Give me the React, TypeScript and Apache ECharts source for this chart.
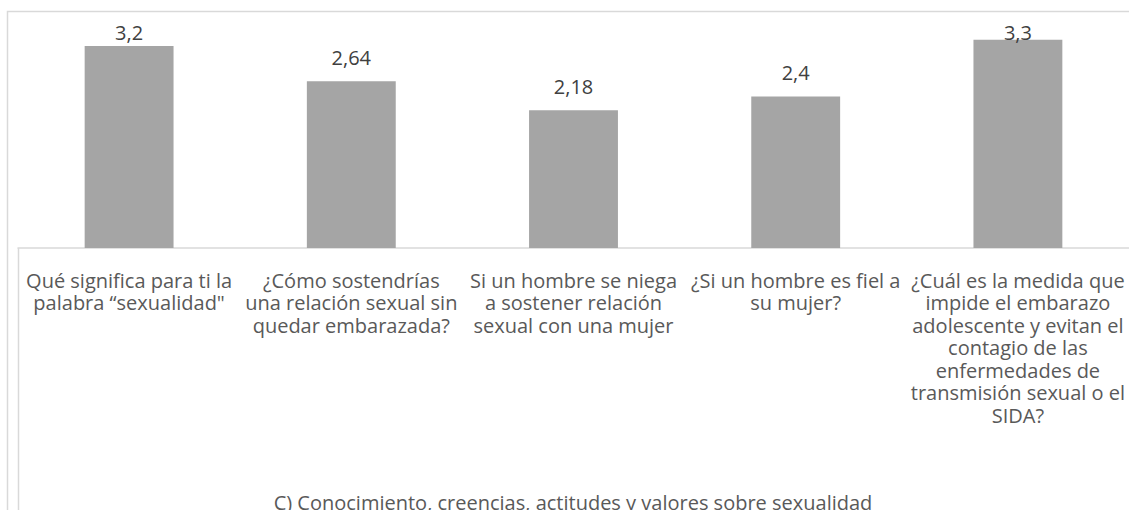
import React, { useEffect, useRef } from "react";
import * as echarts from "echarts";

const categories: string[] = [
  "Qué significa para ti la\npalabra “sexualidad\"",
  "¿Cómo sostendrías\nuna relación sexual sin\nquedar embarazada?",
  "Si un hombre se niega\na sostener relación\nsexual con una mujer",
  "¿Si un hombre es fiel a\nsu mujer?",
  "¿Cuál es la medida que\nimpide el embarazo\nadolescente y evitan el\ncontagio de las\nenfermedades de\ntransmisión sexual o el\nSIDA?",
];
const values: number[] = [3.2, 2.64, 2.18, 2.4, 3.3];
const axisTitle = "C) Conocimiento, creencias, actitudes y valores sobre sexualidad";

const FONT = "'Open Sans', 'Noto Sans', sans-serif";
const FS = 20;

export default function App() {
  const ref = useRef<HTMLDivElement>(null);
  useEffect(() => {
    if (!ref.current) return;
    const chart = echarts.init(ref.current, undefined, { renderer: "svg" });
    const gridTop = 27;
    const gridHeight = 221;
    const yMax = 3.5;
    const labelClampTop = 21;
    const labelH = 22;
    const data = values.map((v) => {
      const barTop = gridTop + gridHeight - (v / yMax) * gridHeight;
      const dist = Math.min(13, barTop - labelClampTop - labelH);
      return { value: v, label: { distance: dist } };
    });
    chart.setOption({
      animation: false,
      backgroundColor: "#ffffff",
      grid: { left: 18, top: gridTop, height: gridHeight, width: 1112, containLabel: false },
      xAxis: {
        type: "category",
        data: categories,
        axisLine: { show: true, lineStyle: { color: "#d9d9d9", width: 1.5 } },
        axisTick: { show: false },
        axisLabel: {
          interval: 0,
          color: "#595959",
          fontSize: FS,
          fontFamily: FONT,
          lineHeight: 22.5,
          margin: 21,
        },
      },
      yAxis: {
        type: "value",
        min: 0,
        max: yMax,
        show: false,
        splitLine: { show: false },
      },
      series: [
        {
          type: "bar",
          data,
          barWidth: "40%",
          itemStyle: { color: "#a5a5a5" },
          label: {
            show: true,
            position: "top",
            color: "#404040",
            fontSize: FS,
            lineHeight: labelH,
            fontFamily: FONT,
            formatter: (p: any) => String(p.value).replace(".", ","),
          },
        },
      ],
      graphic: [
        {
          type: "rect",
          shape: { x: 7.5, y: 11.5, width: 1200, height: 600 },
          style: { fill: "none", stroke: "#d9d9d9", lineWidth: 1.5 },
          silent: true,
        },
        {
          type: "line",
          shape: { x1: 18.5, y1: 248, x2: 18.5, y2: 520 },
          style: { stroke: "#d9d9d9", lineWidth: 1.5 },
          silent: true,
        },
        {
          type: "text",
          x: 573,
          y: 502,
          style: {
            text: axisTitle,
            fill: "#595959",
            fontSize: FS,
            fontFamily: FONT,
            textAlign: "center",
            textVerticalAlign: "middle",
          },
          silent: true,
        },
      ],
    });
    return () => chart.dispose();
  }, []);
  return (
    <div
      ref={ref}
      style={{ position: "fixed", left: 0, top: 0, width: 1129, height: 510, background: "#fff" }}
    />
  );
}
